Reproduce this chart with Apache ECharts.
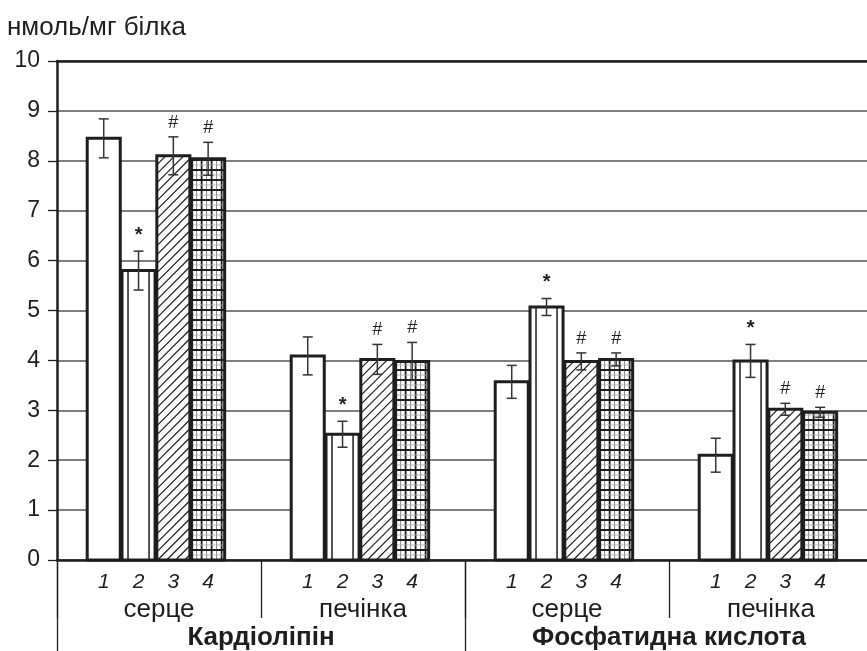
<!DOCTYPE html>
<html><head><meta charset="utf-8">
<script src="https://cdn.jsdelivr.net/npm/echarts@6/dist/echarts.min.js"></script>
<style>html,body{margin:0;padding:0;background:#fff}#c{width:867px;height:651px}</style>
</head><body><div id="c"></div>
<script>
const organs = ['серце', 'печінка', 'серце', 'печінка'];
const lipids = ['Кардіоліпін', 'Фосфатидна кислота'];
const barNums = ['1', '2', '3', '4'];
const yTitle = 'нмоль/мг білка';

const s1 = [8.45, 4.09, 3.57, 2.10];
const s2 = [5.80, 2.52, 5.07, 3.99];
const s3 = [8.10, 4.02, 3.98, 3.02];
const s4 = [8.04, 3.98, 4.02, 2.96];
const e1 = [0.39, 0.38, 0.33, 0.34];
const e2 = [0.39, 0.26, 0.17, 0.33];
const e3 = [0.38, 0.30, 0.17, 0.12];
const e4 = [0.33, 0.38, 0.13, 0.10];
const m1 = ['', '', '', ''];
const m2 = ['*', '*', '*', '*'];
const m3 = ['#', '#', '#', '#'];
const m4 = ['#', '#', '#', '#'];

const vals = [s1, s2, s3, s4];
const errs = [e1, e2, e3, e4];
const marks = [m1, m2, m3, m4];
const FONT = '"Liberation Sans", Arial, sans-serif';
const INK = '#1e1e1e';

function makeRender(k) {
  return function (params, api) {
    const i = params.dataIndex;
    const ci = api.value(0), v = api.value(1), err = api.value(2);
    const base = api.coord([ci, 0]);
    const top = api.coord([ci, v]);
    const band = api.size([1, 0])[0];
    const step = band * 0.1706;
    const bw = band * 0.162;
    const cx = base[0] + (k - 1.5) * step - band * 0.015;
    const x0 = cx - bw / 2, x1 = cx + bw / 2, y0 = top[1], y1 = base[1];
    const ch = [];
    ch.push({ type: 'rect', shape: { x: x0, y: y0, width: bw, height: y1 - y0 }, style: { fill: '#fff' } });
    if (k === 1) {
      [x0 + 6, x1 - 6].forEach(x => ch.push({ type: 'line', shape: { x1: x, y1: y0, x2: x, y2: y1 }, style: { stroke: INK, lineWidth: 1.5 } }));
    } else if (k === 2) {
      const sp = 9;
      for (let c = x0 + y0 + sp; c < x1 + y1; c += sp) {
        const xa = Math.max(x0, c - y1), xb = Math.min(x1, c - y0);
        if (xb > xa) ch.push({ type: 'line', shape: { x1: xa, y1: c - xa, x2: xb, y2: c - xb }, style: { stroke: INK, lineWidth: 1.2 } });
      }
    } else if (k === 3) {
      for (let x = x0 + 5; x < x1 - 1; x += 5) {
        const thick = Math.round((x - x0) / 5) % 2 === 0;
        ch.push({ type: 'line', shape: { x1: x, y1: y0, x2: x, y2: y1 }, style: { stroke: thick ? INK : '#888', lineWidth: thick ? 1.8 : 1 } });
      }
      for (let y = y1 - 5, n = 1; y > y0 + 1; y -= 5, n++) {
        const thick = n % 2 === 0;
        ch.push({ type: 'line', shape: { x1: x0, y1: y, x2: x1, y2: y }, style: { stroke: thick ? INK : '#aaa', lineWidth: thick ? 1.8 : 0.8 } });
      }
    }
    ch.push({ type: 'rect', shape: { x: x0, y: y0, width: bw, height: y1 - y0 }, style: { fill: null, stroke: INK, lineWidth: 3 } });
    const et = api.coord([ci, v + err])[1], eb = api.coord([ci, v - err])[1];
    const es = { stroke: '#333', lineWidth: 1.5 };
    ch.push({ type: 'line', shape: { x1: cx, y1: et, x2: cx, y2: eb }, style: es });
    ch.push({ type: 'line', shape: { x1: cx - 5, y1: et, x2: cx + 5, y2: et }, style: es });
    ch.push({ type: 'line', shape: { x1: cx - 5, y1: eb, x2: cx + 5, y2: eb }, style: es });
    const m = marks[k][i];
    if (m) {
      ch.push({ type: 'text', style: { text: m, x: cx, y: et - (m === '*' ? 16 : 14), align: 'center', verticalAlign: 'middle',
        font: (m === '*' ? 'bold 20px ' : '18px ') + FONT, fill: INK } });
    }
    ch.push({ type: 'text', style: { text: barNums[k], x: cx, y: y1 + 22, align: 'center', verticalAlign: 'middle',
      font: 'italic 21px ' + FONT, fill: INK } });
    return { type: 'group', children: ch };
  };
}

const chart = echarts.init(document.getElementById('c'));
chart.setOption({
  animation: false,
  backgroundColor: '#fff',
  grid: { left: 57, top: 61, width: 816, height: 499, outerBoundsMode: 'none', containLabel: false },
  graphic: [{ type: 'text', left: 7, top: 15, style: { text: yTitle, font: '26px ' + FONT, fill: INK } }],
  xAxis: [
    { type: 'category', data: organs, position: 'bottom', offset: 0,
      axisLine: { show: true, lineStyle: { color: INK, width: 2.5 } },
      axisTick: { show: true, length: 58, lineStyle: { color: INK, width: 1.3 } },
      axisLabel: { margin: 37, fontFamily: FONT, fontSize: 26, color: INK } },
    { type: 'category', data: lipids, position: 'bottom', offset: 0, gridIndex: 0,
      axisLine: { show: false },
      axisTick: { show: true, length: 92, lineStyle: { color: INK, width: 1.3 } },
      axisLabel: { margin: 65, fontFamily: FONT, fontSize: 26, fontWeight: 'bold', color: INK } },
    { type: 'category', data: organs, position: 'top', offset: 0,
      axisLine: { show: true, lineStyle: { color: INK, width: 2.5 } },
      axisTick: { show: false }, axisLabel: { show: false } }
  ],
  yAxis: { type: 'value', min: 0, max: 10, interval: 1,
    axisLine: { show: true, lineStyle: { color: INK, width: 2.5 } },
    axisTick: { show: true, length: 9, lineStyle: { color: INK, width: 1.3 } },
    axisLabel: { margin: 17, fontFamily: FONT, fontSize: 23, color: INK },
    splitLine: { show: true, lineStyle: { color: '#555', width: 1.5 } } },
  series: [0, 1, 2, 3].map(k => ({
    type: 'custom', xAxisIndex: 0, yAxisIndex: 0, clip: false,
    renderItem: makeRender(k),
    data: vals[k].map((v, i) => [i, v, errs[k][i]])
  }))
});
</script></body></html>
